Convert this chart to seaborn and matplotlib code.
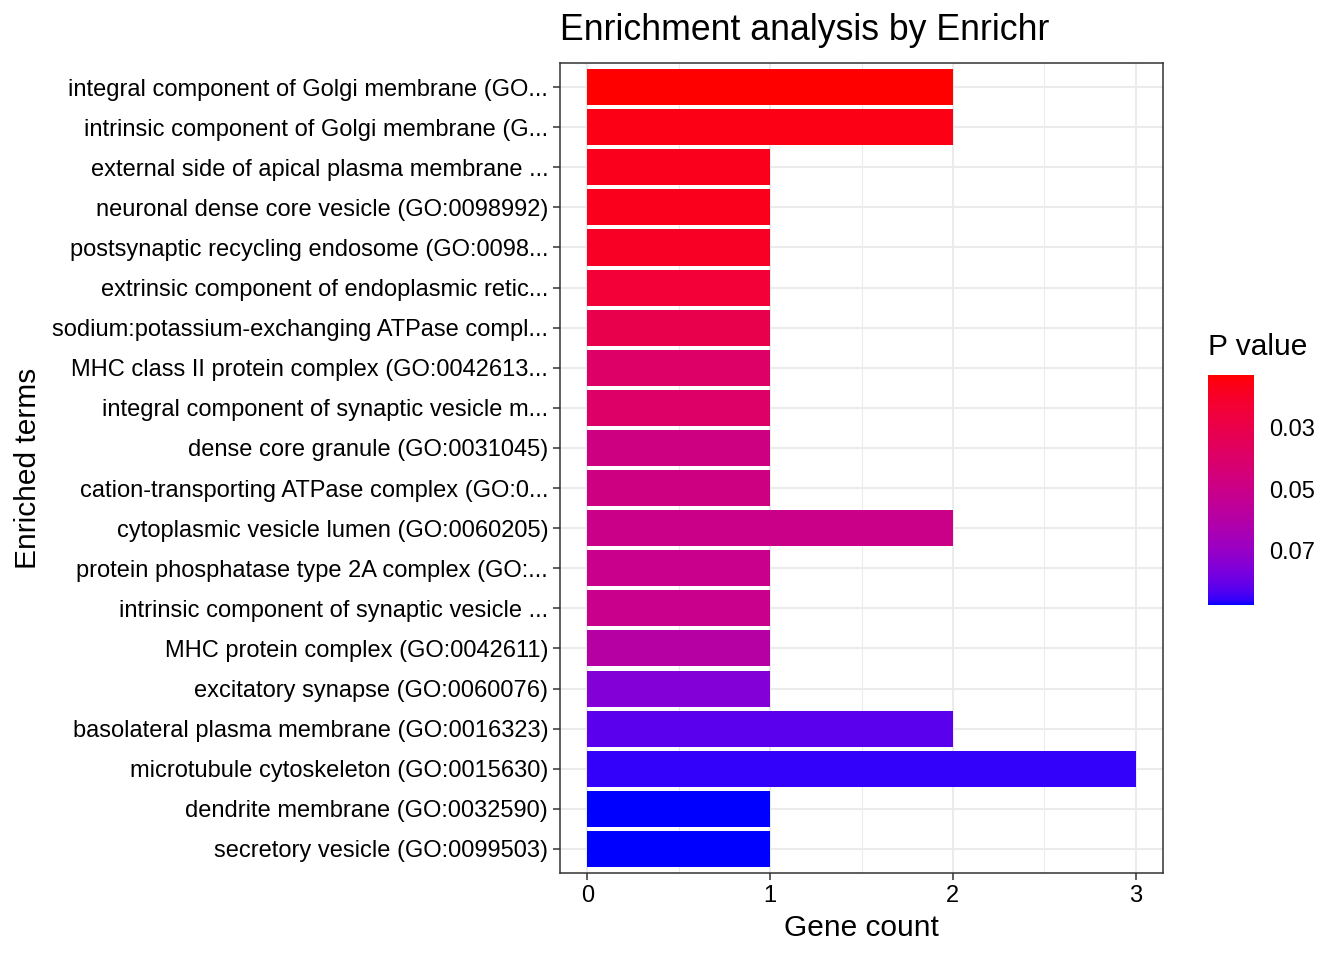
import numpy as np
import pandas as pd
import seaborn as sns
import matplotlib.pyplot as plt
from matplotlib.colors import ListedColormap, Normalize
from matplotlib.cm import ScalarMappable
from matplotlib.ticker import MultipleLocator

sns.set_theme(style="white")
plt.rcParams['font.family'] = ['Liberation Sans', 'DejaVu Sans']
plt.rcParams['text.color'] = 'black'

# Enrichr results (labels truncated as in the original chart)
terms = [
    "integral component of Golgi membrane (GO...",
    "intrinsic component of Golgi membrane (G...",
    "external side of apical plasma membrane ...",
    "neuronal dense core vesicle (GO:0098992)",
    "postsynaptic recycling endosome (GO:0098...",
    "extrinsic component of endoplasmic retic...",
    "sodium:potassium-exchanging ATPase compl...",
    "MHC class II protein complex (GO:0042613...",
    "integral component of synaptic vesicle m...",
    "dense core granule (GO:0031045)",
    "cation-transporting ATPase complex (GO:0...",
    "cytoplasmic vesicle lumen (GO:0060205)",
    "protein phosphatase type 2A complex (GO:...",
    "intrinsic component of synaptic vesicle ...",
    "MHC protein complex (GO:0042611)",
    "excitatory synapse (GO:0060076)",
    "basolateral plasma membrane (GO:0016323)",
    "microtubule cytoskeleton (GO:0015630)",
    "dendrite membrane (GO:0032590)",
    "secretory vesicle (GO:0099503)",
]
gene_counts = [2, 2, 1, 1, 1, 1, 1, 1, 1, 1, 1, 2, 1, 1, 1, 1, 2, 3, 1, 1]
p_values = [0.0129, 0.0160, 0.0172, 0.0172, 0.0196, 0.0241, 0.0309, 0.0391,
             0.0391, 0.0480, 0.0480, 0.0503, 0.0510, 0.0510, 0.0593, 0.0750,
             0.0821, 0.0858, 0.0877, 0.0877]
cbar_ticks = [0.03, 0.05, 0.07]

# red -> blue gradient interpolated in Lab space (like ggplot's scale_fill_gradient)
M = np.array([[0.4124, 0.3576, 0.1805],
              [0.2126, 0.7152, 0.0722],
              [0.0193, 0.1192, 0.9505]])
WHITE = np.array([0.95047, 1.0, 1.08883])


def srgb_to_lab(rgb):
    c = np.asarray(rgb, float)
    lin = np.where(c <= 0.04045, c / 12.92, ((c + 0.055) / 1.055) ** 2.4)
    xyz = M @ lin / WHITE
    f = np.where(xyz > 0.008856, np.cbrt(xyz), 7.787 * xyz + 16 / 116)
    return np.array([116 * f[1] - 16, 500 * (f[0] - f[1]), 200 * (f[1] - f[2])])


def lab_to_srgb(lab):
    L, a, b = lab
    fy = (L + 16) / 116
    f = np.array([fy + a / 500, fy, fy - b / 200])
    xyz = np.where(f ** 3 > 0.008856, f ** 3, (f - 16 / 116) / 7.787) * WHITE
    lin = np.clip(np.linalg.inv(M) @ xyz, 0, 1)
    c = np.where(lin <= 0.0031308, 12.92 * lin, 1.055 * lin ** (1 / 2.4) - 0.055)
    return np.clip(c, 0, 1)


lab_lo = srgb_to_lab([1, 0, 0])
lab_hi = srgb_to_lab([0, 0, 1])
cmap = ListedColormap([lab_to_srgb(lab_lo + t * (lab_hi - lab_lo)) for t in np.linspace(0, 1, 256)])
norm = Normalize(vmin=min(p_values), vmax=max(p_values))

df = pd.DataFrame({"term": terms, "count": gene_counts, "p": p_values})
bar_colors = [cmap(norm(p)) for p in df["p"]]

fig = plt.figure(figsize=(13.44, 9.6), dpi=100)
ax = fig.add_axes([560 / 1344, 1 - 873 / 960, 603 / 1344, 810 / 960])

sns.barplot(data=df, x="count", y="term", hue="term", palette=bar_colors,
            legend=False, width=0.9, saturation=1, linewidth=0, ax=ax, zorder=3)

ax.set_xlim(-0.15, 3.15)
ax.set_ylim(len(terms) - 0.4, -0.6)
ax.set_xticks([0, 1, 2, 3])
ax.xaxis.set_minor_locator(MultipleLocator(0.5))
ax.grid(True, which="major", color="#EBEBEB", linewidth=1.5, zorder=0)
ax.grid(True, which="minor", axis="x", color="#EBEBEB", linewidth=0.75, zorder=0)
ax.set_axisbelow(True)
for s in ax.spines.values():
    s.set_color("#333333")
    s.set_linewidth(1.1)
ax.tick_params(axis="both", which="major", length=5, width=1.1, color="#333333",
               labelsize=17, labelcolor="black", pad=3.5, bottom=True, left=True)
ax.tick_params(axis="x", which="minor", length=0)
ax.set_xlabel("")
ax.set_ylabel("")

fig.text(861.5 / 1344, 1 - 928 / 960, "Gene count", fontsize=21.5, ha="center",
         va="center", color="black")
fig.text(28 / 1344, 1 - 468 / 960, "Enriched terms", fontsize=21.5, ha="center",
         va="center", rotation=90, color="black")
fig.text(560 / 1344, 1 - 30 / 960, "Enrichment analysis by Enrichr", fontsize=25.7,
         ha="left", va="center", color="black")

# colour bar legend
cax = fig.add_axes([1208 / 1344, 1 - 605 / 960, 46 / 1344, 230 / 960])
cb = fig.colorbar(ScalarMappable(norm=norm, cmap=cmap), cax=cax)
cb.outline.set_visible(False)
cax.invert_yaxis()
cb.set_ticks(cbar_ticks)
cb.set_ticklabels([f"{t:.2f}" for t in cbar_ticks])
cax.tick_params(axis="y", direction="in", color="white", length=6.5, width=1,
                left=True, right=True, labelleft=False, labelright=True,
                labelsize=17, labelcolor="black", pad=11)
fig.text(1208 / 1344, 1 - 347 / 960, "P value", fontsize=21.5, ha="left",
         va="center", color="black")

fig.savefig("out.png", dpi=100)
